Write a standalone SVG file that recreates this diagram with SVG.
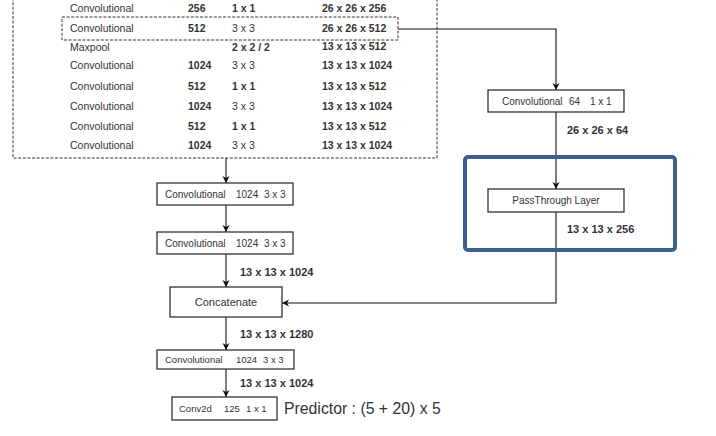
<svg xmlns="http://www.w3.org/2000/svg" width="716" height="436" viewBox="0 0 716 436">
<defs>
<style>
text{font-family:"Liberation Sans",Arial,sans-serif;fill:#333;}
.t{font-size:10.5px;}
.b{font-weight:bold;}
.n{font-size:10px;}
.s{font-size:9.5px;}
.lbl{font-size:11px;font-weight:bold;}
.box{fill:#fff;stroke:#333;stroke-width:1.3;}
.dash{fill:none;stroke:#333;stroke-width:1;stroke-dasharray:3,1.6;}
.con{fill:none;stroke:#111;stroke-width:1.1;}
</style>
<marker id="ah" markerUnits="userSpaceOnUse" markerWidth="8" markerHeight="8" refX="7" refY="4" orient="auto">
<path d="M0,0.5 L7,4 L0,7.5 L2,4 z" fill="#111"/>
</marker>
</defs>
<rect width="716" height="436" fill="#fff"/>

<g id="backbone">
<rect class="dash" x="13" y="-5" width="424" height="163"/>
<rect class="dash" x="62" y="17" width="336" height="23"/>
<g class="t">
<text x="70" y="12">Convolutional</text><text class="b" x="188" y="12">256</text><text class="b" x="232" y="12">1 x 1</text><text class="b" x="322" y="12">26 x 26 x 256</text>
<text x="70" y="32">Convolutional</text><text class="b" x="188" y="32">512</text><text x="232" y="32">3 x 3</text><text class="b" x="322" y="32">26 x 26 x 512</text>
<text x="70" y="50.5">Maxpool</text><text class="b" x="232" y="50.5">2 x 2 / 2</text><text class="b" x="322" y="50">13 x 13 x 512</text>
<text x="70" y="69">Convolutional</text><text class="b" x="188" y="69">1024</text><text x="232" y="69">3 x 3</text><text class="b" x="322" y="69">13 x 13 x 1024</text>
<text x="70" y="90">Convolutional</text><text class="b" x="188" y="90">512</text><text class="b" x="232" y="90">1 x 1</text><text class="b" x="322" y="90">13 x 13 x 512</text>
<text x="70" y="110">Convolutional</text><text class="b" x="188" y="110">1024</text><text x="232" y="110">3 x 3</text><text class="b" x="322" y="110">13 x 13 x 1024</text>
<text x="70" y="130">Convolutional</text><text class="b" x="188" y="130">512</text><text class="b" x="232" y="130">1 x 1</text><text class="b" x="322" y="130">13 x 13 x 512</text>
<text x="70" y="149">Convolutional</text><text class="b" x="188" y="149">1024</text><text x="232" y="149">3 x 3</text><text class="b" x="322" y="149">13 x 13 x 1024</text>
</g>
</g>

<g id="connectors">
<path class="con" d="M226,158 V183" marker-end="url(#ah)"/>
<path class="con" d="M226,205 V232" marker-end="url(#ah)"/>
<path class="con" d="M226,254 V287" marker-end="url(#ah)"/>
<path class="con" d="M226,317 V350" marker-end="url(#ah)"/>
<path class="con" d="M226,369 V397" marker-end="url(#ah)"/>
<path class="con" d="M398,29 H556 V90" marker-end="url(#ah)"/>
<path class="con" d="M556,112 V189" marker-end="url(#ah)"/>
<path class="con" d="M556,212 V303 H282" marker-end="url(#ah)"/>
</g>

<g id="conv1">
<rect class="box" x="157" y="183" width="136" height="22"/>
<text class="n" x="165" y="198">Convolutional</text><text class="n" x="236" y="198">1024</text><text class="n" x="264" y="198">3 x 3</text>
</g>
<g id="conv2">
<rect class="box" x="157" y="232" width="136" height="22"/>
<text class="n" x="165" y="247">Convolutional</text><text class="n" x="236" y="247">1024</text><text class="n" x="264" y="247">3 x 3</text>
</g>
<g id="concat">
<rect class="box" x="170" y="287" width="112" height="30"/>
<text x="226" y="306" font-size="11" text-anchor="middle">Concatenate</text>
</g>
<g id="conv3">
<rect class="box" x="157" y="350" width="137" height="19"/>
<text class="s" x="165" y="363">Convolutional</text><text class="s" x="236" y="363">1024</text><text class="s" x="263" y="363">3 x 3</text>
</g>
<g id="conv2d">
<rect class="box" x="172" y="397" width="105" height="23"/>
<text class="s" x="179" y="412">Conv2d</text><text class="s" x="224" y="412">125</text><text class="s" x="246" y="412">1 x 1</text>
</g>
<text x="284" y="414" font-size="15.8">Predictor : (5 + 20) x 5</text>

<g id="conv64">
<rect class="box" x="488" y="90" width="136" height="22"/>
<text class="n" x="502" y="105">Convolutional</text><text class="n" x="569" y="105">64</text><text class="n" x="590" y="105">1 x 1</text>
</g>
<g id="passthrough">
<rect x="465" y="157" width="210" height="93" rx="3" fill="none" stroke="#3b5f8e" stroke-width="4"/>
<rect class="box" x="488" y="189" width="136" height="23"/>
<text class="n" x="556" y="204" text-anchor="middle">PassThrough Layer</text>
</g>

<g id="labels">
<text class="lbl" x="567" y="134">26 x 26 x 64</text>
<text class="lbl" x="567" y="233">13 x 13 x 256</text>
<text class="lbl" x="240" y="276">13 x 13 x 1024</text>
<text class="lbl" x="240" y="338">13 x 13 x 1280</text>
<text class="lbl" x="240" y="387">13 x 13 x 1024</text>
</g>
</svg>
